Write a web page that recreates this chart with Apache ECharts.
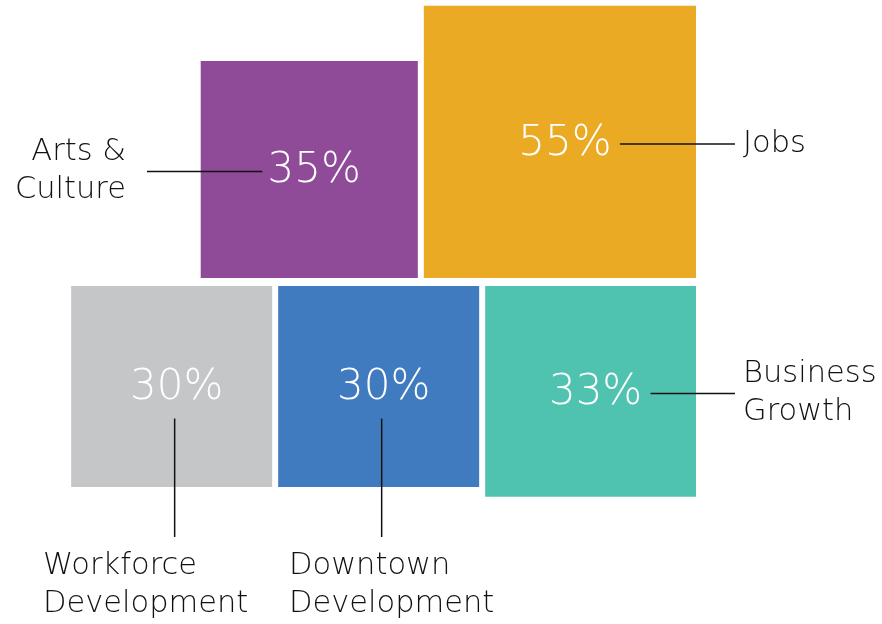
<!DOCTYPE html>
<html>
<head>
<meta charset="utf-8">
<script src="https://cdn.jsdelivr.net/npm/echarts@6/dist/echarts.min.js"></script>
<style>
  html, body { margin: 0; padding: 0; background: #fff; }
  #chart { width: 882px; height: 624px; }
</style>
</head>
<body>
<div id="chart"></div>
<script>
// Data
const categories = ['Arts &\nCulture', 'Jobs', 'Workforce\nDevelopment', 'Downtown\nDevelopment', 'Business\nGrowth'];
const values = [35, 55, 30, 30, 33];
const colors = ['#8F4A98', '#EBAA24', '#C5C6C8', '#407BC0', '#50C3B0'];

// Layout: squares have area proportional to value, rows packed right-aligned
const rows = [[0, 1], [2, 3, 4]];
const callouts = ['left', 'right', 'down', 'down', 'right'];
const downLabelX = { 2: 43, 3: 289 };
const unit = 36.7;        // side = unit * sqrt(value)
const rowRight = 696;
const gap = 6;
const rowSplitTop = 278;  // bottom edge of upper row
const rowSplitBottom = 286; // top edge of lower row
const FONT = '"DejaVu Sans ExtraLight", "DejaVu Sans", sans-serif';

const boxes = [];
rows.forEach((row, r) => {
  let right = rowRight;
  for (let k = row.length - 1; k >= 0; k--) {
    const i = row[k];
    const side = unit * Math.sqrt(values[i]);
    const y = r === 0 ? rowSplitTop - side : rowSplitBottom;
    boxes[i] = { x: right - side, y: y, side: side };
    right = right - side - gap;
  }
});

const chart = echarts.init(document.getElementById('chart'));

function renderItem(params, api) {
  const i = params.dataIndex;
  const b = boxes[i];
  const p0 = api.coord([b.x, b.y]);
  const p1 = api.coord([b.x + b.side, b.y + b.side]);
  const cx = (p0[0] + p1[0]) / 2 + 5;
  const cy = (p0[1] + p1[1]) / 2 + 2;
  const children = [{
    type: 'rect',
    shape: { x: p0[0], y: p0[1], width: p1[0] - p0[0], height: p1[1] - p0[1] },
    style: { fill: colors[i] }
  }, {
    type: 'text',
    z2: 10,
    style: {
      text: api.value(1) + '%', x: cx, y: cy,
      align: 'center', verticalAlign: 'middle',
      fill: '#fff', fontSize: 42, fontWeight: 200, fontFamily: FONT
    }
  }];
  const lineStyle = { stroke: '#111', lineWidth: 1.5 };
  const labelStyle = { fill: '#111', fontSize: 30.5, fontWeight: 200, fontFamily: FONT, lineHeight: 38 };
  const dir = callouts[i];
  if (dir === 'left') {
    const end = api.coord([147, 0])[0];
    children.push({ type: 'line', z2: 5, shape: { x1: cx - 52, y1: cy, x2: end, y2: cy }, style: lineStyle });
    children.push({ type: 'text', style: Object.assign({ text: categories[i], x: end - 21, y: cy, align: 'right', verticalAlign: 'middle' }, labelStyle) });
  } else if (dir === 'right') {
    const end = api.coord([735, 0])[0];
    children.push({ type: 'line', z2: 5, shape: { x1: cx + 55, y1: cy, x2: end, y2: cy }, style: lineStyle });
    children.push({ type: 'text', style: Object.assign({ text: categories[i], x: end + 8, y: cy, align: 'left', verticalAlign: 'middle' }, labelStyle) });
  } else {
    const end = api.coord([0, 537])[1];
    const lx = cx - 2;
    children.push({ type: 'line', z2: 5, shape: { x1: lx, y1: cy + 30, x2: lx, y2: end }, style: lineStyle });
    children.push({ type: 'text', style: Object.assign({ text: categories[i], x: api.coord([downLabelX[i], 0])[0], y: end + 10, align: 'left', verticalAlign: 'top' }, labelStyle) });
  }
  return { type: 'group', children: children };
}

chart.setOption({
  animation: false,
  grid: { left: 0, right: 0, top: 0, bottom: 0 },
  xAxis: { type: 'value', min: 0, max: 882, show: false },
  yAxis: { type: 'value', min: 0, max: 624, inverse: true, show: false },
  series: [{
    type: 'custom',
    clip: false,
    renderItem: renderItem,
    data: values.map((v, i) => [i, v])
  }]
});

window.addEventListener('resize', () => chart.resize());
</script>
</body>
</html>
